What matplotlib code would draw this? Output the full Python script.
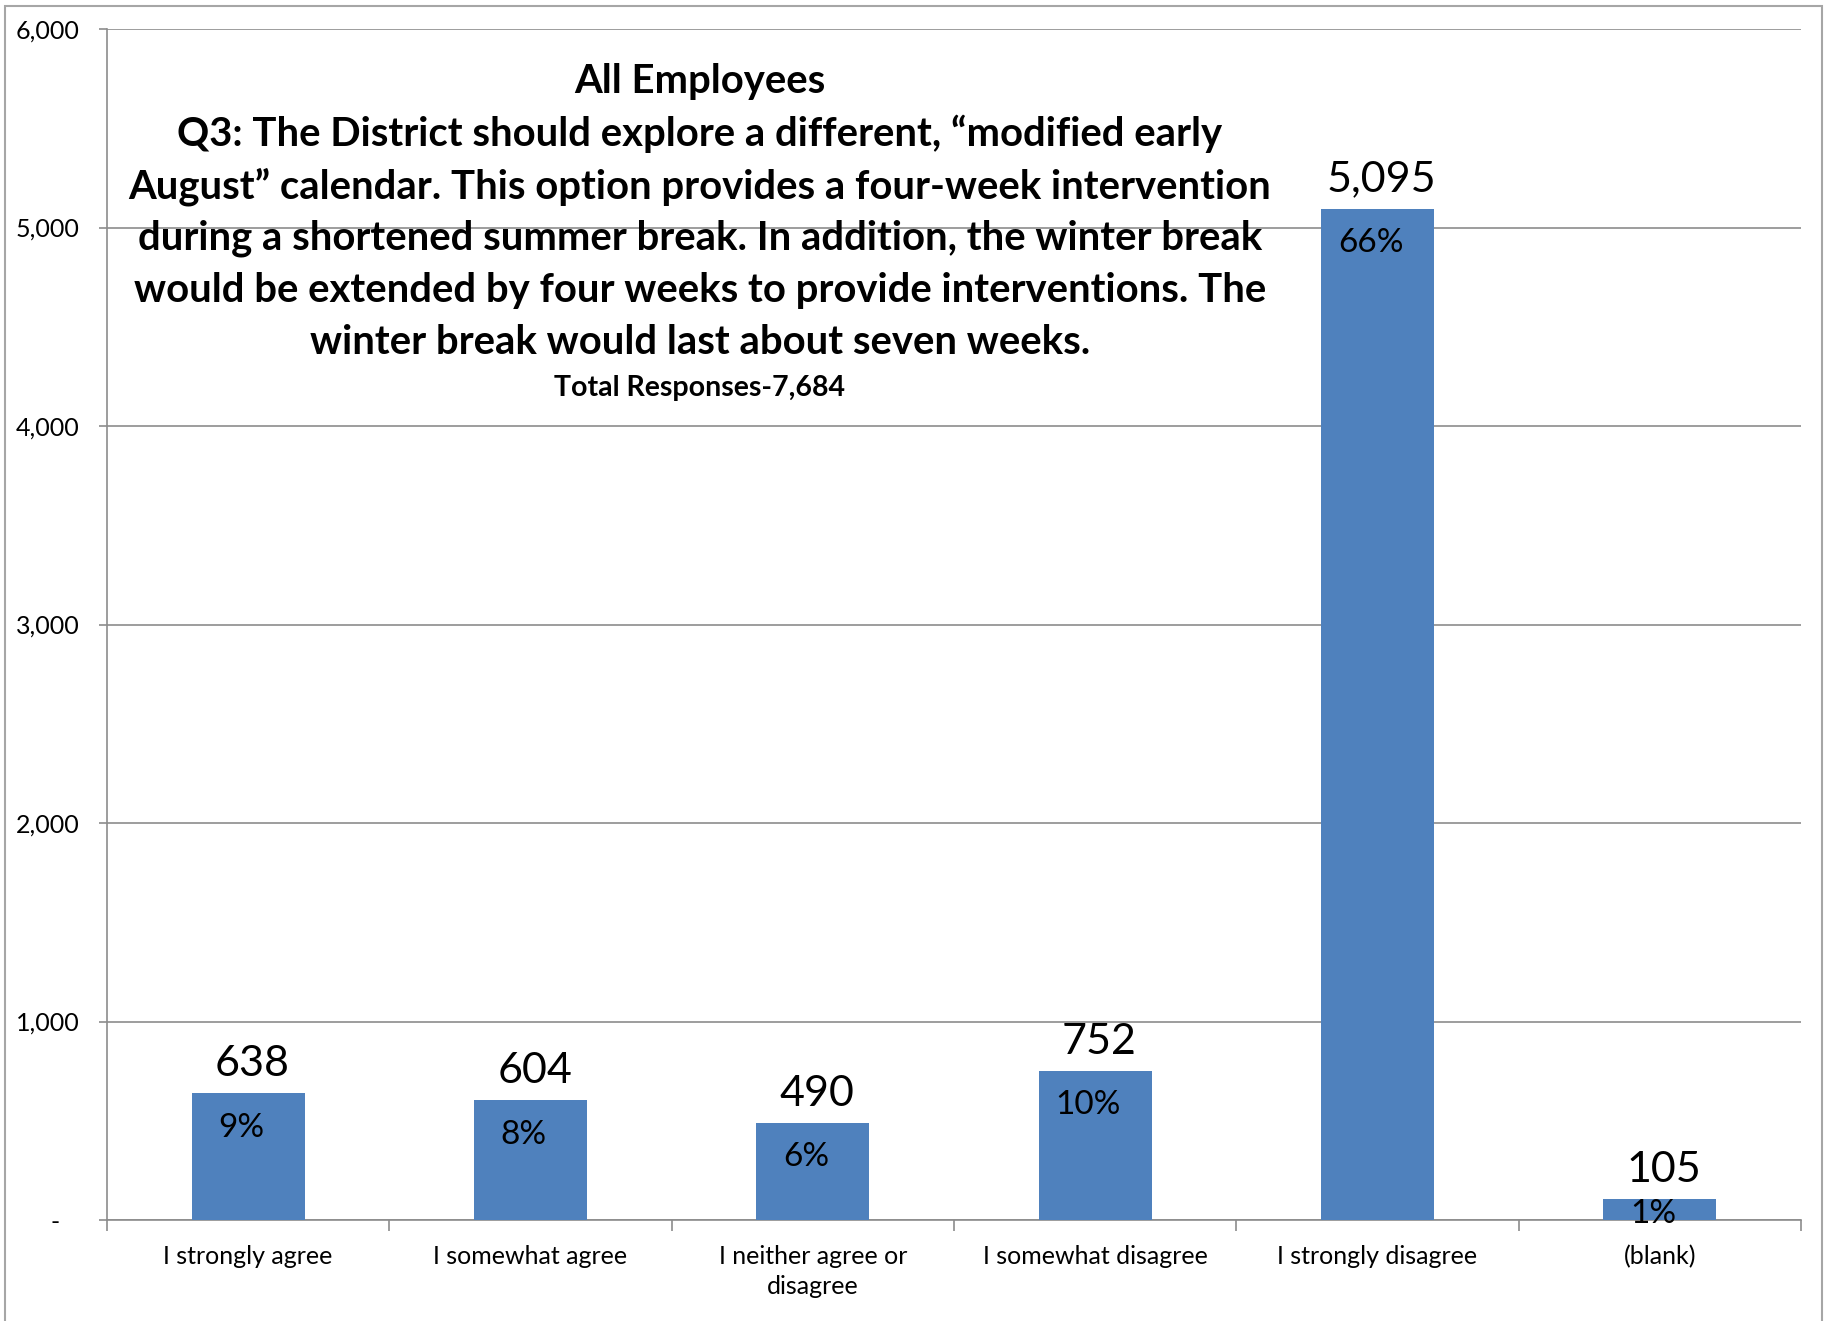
import matplotlib.pyplot as plt
from matplotlib.patches import Rectangle
from matplotlib.ticker import FixedLocator, FuncFormatter

categories = ['I strongly agree', 'I somewhat agree', 'I neither agree or\ndisagree',
              'I somewhat disagree', 'I strongly disagree', '(blank)']
counts = [638, 604, 490, 752, 5095, 105]
percents = ['9%', '8%', '6%', '10%', '66%', '1%']

title_lines = ['All Employees',
               'Q3: The District should explore a different, \u201cmodified early',
               'August\u201d calendar. This option provides a four-week intervention',
               'during a shortened summer break. In addition, the winter break',
               'would be extended by four weeks to provide interventions. The',
               'winter break would last about seven weeks.']
subtitle = 'Total Responses-7,684'

W, H = 1834, 1321
plt.rcParams['font.family'] = ['Lato', 'DejaVu Sans']

fig = plt.figure(figsize=(W / 100, H / 100), dpi=100)
ax = fig.add_axes([107 / W, 1 - 1220 / H, (1801 - 107) / W, (1220 - 29) / H])

bar_color = '#4F81BD'
grid_color = '#8C8C8C'

x = range(len(categories))
ax.bar(x, counts, width=0.4, color=bar_color, zorder=3)

ax.set_xlim(-0.5, len(categories) - 0.5)
ax.set_ylim(0, 6000)
ax.yaxis.set_major_locator(FixedLocator(range(0, 6001, 1000)))
ax.yaxis.set_major_formatter(FuncFormatter(lambda v, p: '-   ' if v == 0 else f'{int(v):,}'))
ax.grid(axis='y', color=grid_color, linewidth=1.2, zorder=0)

# category ticks sit between bars
ax.set_xticks([i - 0.5 for i in range(len(categories) + 1)], minor=False)
ax.set_xticklabels([])
ax.set_xticks(list(x), minor=True)
ax.set_xticklabels(categories, minor=True, fontsize=18, linespacing=1.35)
ax.tick_params(axis='x', which='major', length=8, color=grid_color, width=1.2)
ax.tick_params(axis='x', which='minor', length=0, pad=18)
ax.tick_params(axis='y', length=6, color=grid_color, width=1.2, labelsize=18, pad=14)

for s in ['top', 'right']:
    ax.spines[s].set_visible(False)
for s in ['left', 'bottom']:
    ax.spines[s].set_color(grid_color)
    ax.spines[s].set_linewidth(1.2)

# bar height in points, so short bars keep their % label close to the top
pts_per_unit = ax.get_position().height * H * 0.72 / 6000

for i, (c, p) in enumerate(zip(counts, percents)):
    ax.annotate(f'{c:,}', (i, c), xytext=(3, 21), textcoords='offset points',
                ha='center', va='center', fontsize=31)
    drop = min(25, 0.7 * c * pts_per_unit)
    ax.annotate(p, (i, c), xytext=(-5, -drop), textcoords='offset points',
                ha='center', va='center', fontsize=24, zorder=4)

# title block inside the plot area
for k, line in enumerate(title_lines):
    fig.text(700 / W, 1 - (82 + 52.2 * k) / H, line, ha='center', va='center',
             fontsize=28.8, fontweight='bold')
fig.text(700 / W, 1 - 388 / H, subtitle, ha='center', va='center',
         fontsize=20.5, fontweight='bold')

# thin outer frame
fig.patches.append(Rectangle((5 / W, -0.01), (1822 - 5) / W, 1.01 - 6 / H,
                             transform=fig.transFigure, fill=False,
                             edgecolor='#A6A6A6', linewidth=1.5))

fig.savefig('out.png', dpi=100)
